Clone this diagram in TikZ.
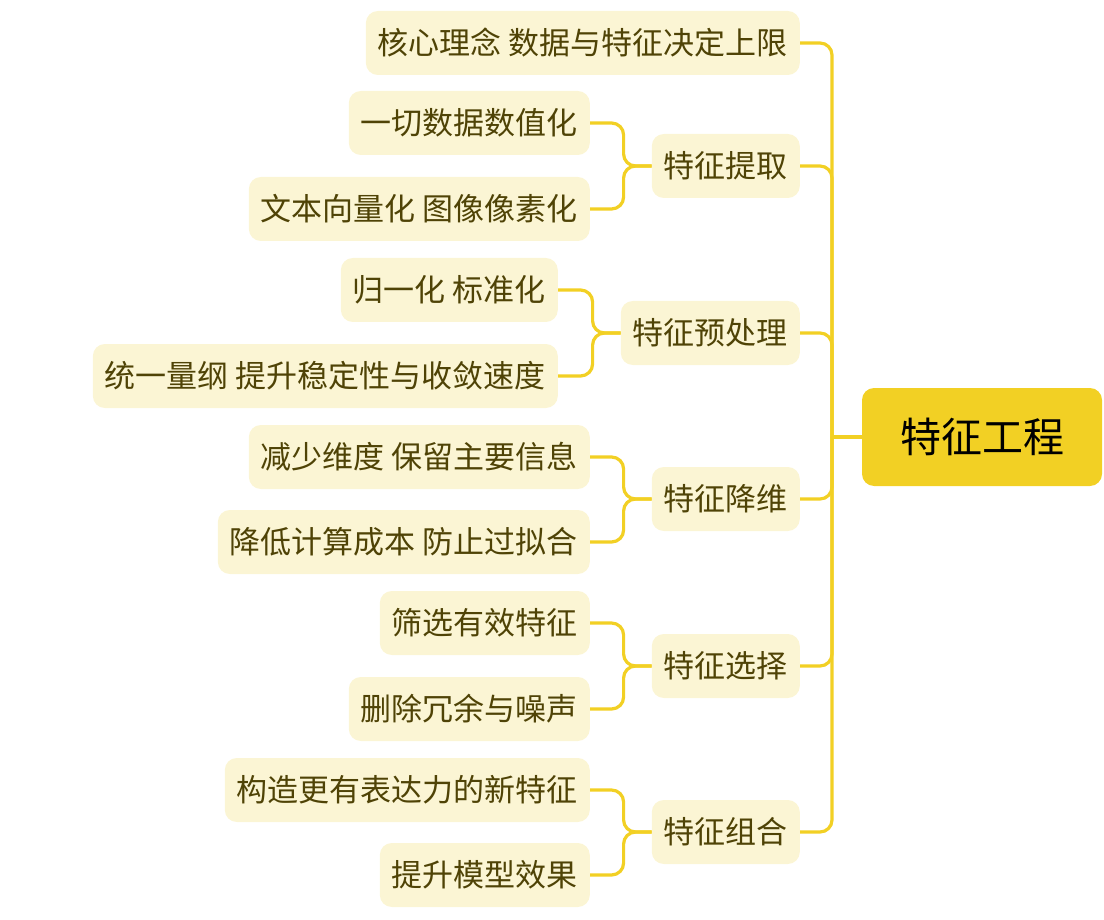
\documentclass[tikz,border=0pt]{standalone}
\usepackage{fontspec}
\setmainfont{Noto Sans CJK SC}
\definecolor{gold}{HTML}{F2D024}
\definecolor{pale}{HTML}{FBF5D4}
\definecolor{olive}{HTML}{4F4306}
\begin{document}
\begin{tikzpicture}[x=1pt,y=-1pt,
  root/.style={fill=gold,rounded corners=12,minimum height=98,minimum width=240,font=\fontsize{41}{46}\selectfont,text=black},
  sub/.style={fill=pale,rounded corners=12,minimum height=64,inner xsep=12,font=\fontsize{31}{36}\selectfont,text=olive,anchor=east},
  link/.style={draw=gold,line width=3.2,rounded corners=12}]
\useasboundingbox (0,0) rectangle (1104,920);
\node[root] (r) at (982,437) {特征工程};
\node[sub] (a) at (800,43) {核心理念 数据与特征决定上限};
\node[sub] (b) at (800,166) {特征提取};
\node[sub] (c) at (800,333) {特征预处理};
\node[sub] (d) at (800,499) {特征降维};
\node[sub] (e) at (800,666) {特征选择};
\node[sub] (f) at (800,832) {特征组合};
\node[sub] (b1) at (590,123) {一切数据数值化};
\node[sub] (b2) at (590,209) {文本向量化 图像像素化};
\node[sub] (c1) at (558,290) {归一化 标准化};
\node[sub] (c2) at (558,376) {统一量纲 提升稳定性与收敛速度};
\node[sub] (d1) at (590,457) {减少维度 保留主要信息};
\node[sub] (d2) at (590,542) {降低计算成本 防止过拟合};
\node[sub] (e1) at (590,623) {筛选有效特征};
\node[sub] (e2) at (590,709) {删除冗余与噪声};
\node[sub] (f1) at (590,790) {构造更有表达力的新特征};
\node[sub] (f2) at (590,875) {提升模型效果};
\coordinate (t) at (832,437);
\draw[link] (r.west) -- (t);
\foreach \n in {a,b,c,d,e,f} \draw[link] (t) |- (\n.east);
\foreach \p/\q in {b/b1,b/b2,d/d1,d/d2,e/e1,e/e2,f/f1,f/f2}
  \draw[link] (\p.west) -- ++(-28,0) |- (\q.east);
\foreach \q in {c1,c2}
  \draw[link] (c.west) -- ++(-28,0) |- (\q.east);
\end{tikzpicture}
\end{document}
